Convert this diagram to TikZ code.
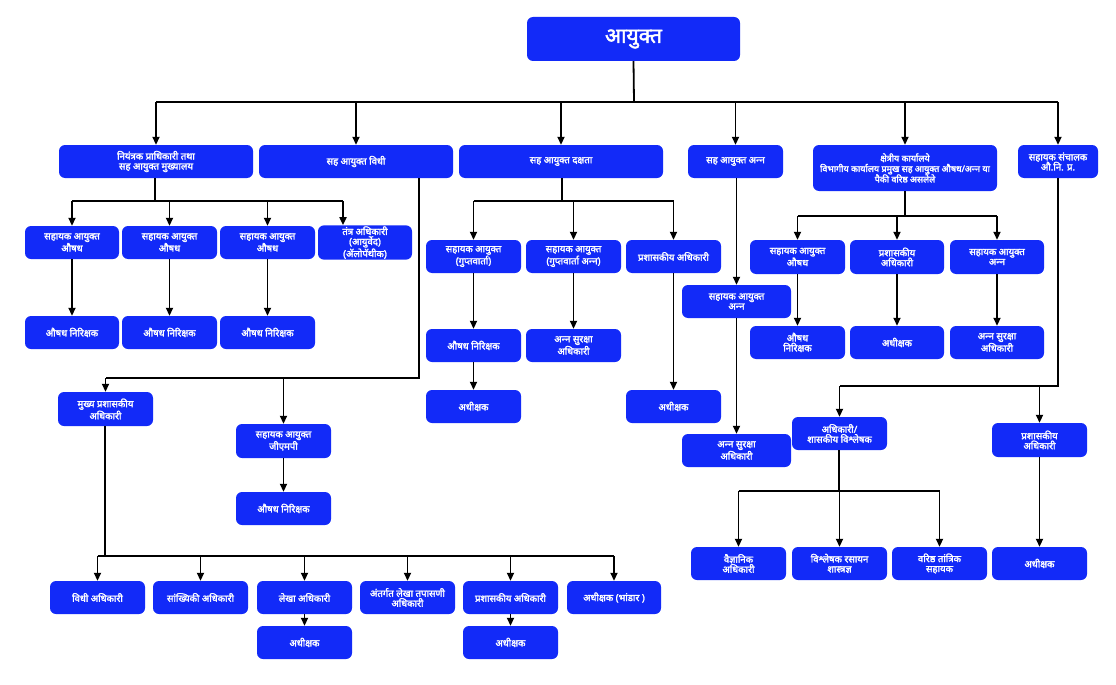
\documentclass[tikz,border=0pt]{standalone}
\usepackage{fontspec}
\newfontfamily\dev[Script=Devanagari, FakeBold=2.2]{Noto Sans}
\usetikzlibrary{arrows.meta}
\definecolor{boxblue}{RGB}{18,42,248}
\tikzset{
  box/.style={fill=boxblue, rounded corners=6pt, text=white, align=center, inner sep=1pt,
    font=\dev\fontsize{9.6}{10}\selectfont},
  conn/.style={draw=black, line width=1.8pt},
  arr/.style={conn, -{Triangle[length=8pt,width=7pt]}}
}
\newcommand\obox[6]{\node[box, minimum width={(#4-#2)*1pt}, minimum height={(#5-#3)*1pt}] (#1) at ({(#2+#4)/2},{(#3+#5)/2}) {#6};}
\newcommand\anna{अन्‍न}
\begin{document}
\begin{tikzpicture}[x=1pt,y=-1pt]
\useasboundingbox (0,0) rectangle (1116,685);
% top
\node[box, minimum width=213pt, minimum height=44pt, font=\dev\fontsize{21}{23}\selectfont] (top) at (633.5,39) {आयुक्त};
% row 1
\obox{a1}{59}{145}{253}{178}{नियंत्रक प्राधिकारी तथा\\सह आयुक्त मुख्यालय}
\obox{a2}{259}{145}{453}{178}{सह आयुक्त विधी}
\obox{a3}{459}{145}{663}{178}{सह आयुक्त दक्षता}
\obox{a4}{688}{145}{783}{178}{सह आयुक्त \anna}
\node[box, minimum width=184pt, minimum height=46pt, font=\dev\fontsize{9}{10.5}\selectfont] (a5) at (905,168) {क्षेत्रीय कार्यालये\\विभागीय कार्यालय प्रमुख सह आयुक्त औषध/\anna{} या\\पैकी वरिष्ठ असलेले};
\obox{a6}{1018}{145}{1098}{178}{सहायक संचालक\\औ.नि. प्र.}
% A1 children
\obox{b1}{25}{226}{119}{259}{सहायक आयुक्त\\औषध}
\obox{b2}{122}{226}{217}{259}{सहायक आयुक्त\\औषध}
\obox{b3}{220}{226}{315}{259}{सहायक आयुक्त\\औषध}
\obox{b4}{318}{226}{412}{259}{तंत्र अधिकारी\\(आयुर्वेद)\\(ॲलोपॅथीक)}
\obox{c1}{25}{316}{119}{349}{औषध निरिक्षक}
\obox{c2}{122}{316}{217}{349}{औषध निरिक्षक}
\obox{c3}{220}{316}{315}{349}{औषध निरिक्षक}
% A2 children
\obox{m1}{58}{392}{153}{426}{मुख्य प्रशासकीय\\अधिकारी}
\obox{gmp}{236}{424}{331}{458}{सहायक आयुक्त\\जीएमपी}
\obox{gmpc}{236}{492}{331}{525}{औषध निरिक्षक}
\obox{d1}{50}{581}{145}{614}{विधी अधिकारी}
\obox{d2}{153}{581}{248}{614}{सांख्यिकी अधिकारी}
\obox{d3}{257}{581}{352}{614}{लेखा अधिकारी}
\obox{d4}{360}{581}{455}{614}{अंतर्गत लेखा तपासणी\\अधिकारी}
\obox{d5}{463}{581}{558}{614}{प्रशासकीय अधिकारी}
\obox{d6}{567}{581}{661}{614}{अधीक्षक (भांडार )}
\obox{d3c}{257}{626}{352}{659}{अधीक्षक}
\obox{d5c}{463}{626}{558}{659}{अधीक्षक}
% A3 children
\obox{e1}{426}{240}{521}{273}{सहायक आयुक्त\\(गुप्तवार्ता)}
\obox{e2}{526}{240}{621}{273}{सहायक आयुक्त\\(गुप्तवार्ता \anna)}
\obox{e3}{626}{240}{721}{273}{प्रशासकीय अधिकारी}
\obox{e1c}{426}{329}{521}{362}{औषध निरिक्षक}
\obox{e1cc}{426}{390}{521}{423}{अधीक्षक}
\obox{e2c}{526}{329}{621}{362}{\anna{} सुरक्षा\\अधिकारी}
\obox{e3c}{626}{390}{721}{423}{अधीक्षक}
% A4 children
\obox{sa}{682}{285}{791}{318}{सहायक आयुक्त\\\anna}
\obox{sac}{682}{434}{791}{467}{\anna{} सुरक्षा\\अधिकारी}
% A5 children
\obox{f1}{750}{240}{845}{274}{सहायक आयुक्त\\औषध}
\obox{f2}{850}{240}{944}{274}{प्रशासकीय\\अधिकारी}
\obox{f3}{950}{240}{1044}{274}{सहायक आयुक्त\\\anna}
\obox{g1}{750}{326}{845}{359}{औषध\\निरिक्षक}
\obox{g2}{850}{326}{944}{359}{अधीक्षक}
\obox{g3}{950}{326}{1044}{359}{\anna{} सुरक्षा\\अधिकारी}
% A6 children
\obox{h1}{792}{417}{887}{450}{अधिकारी/\\शासकीय विश्लेषक}
\obox{h2}{992}{423}{1087}{457}{प्रशासकीय\\अधिकारी}
\obox{i1}{691}{547}{786}{580}{वैज्ञानिक\\अधिकारी}
\obox{i2}{792}{547}{887}{580}{विश्लेषक रसायन\\शास्त्रज्ञ}
\obox{i3}{892}{547}{987}{580}{वरिष्ठ तांत्रिक\\सहायक}
\obox{i4}{992}{547}{1087}{580}{अधीक्षक}

% ---- connectors ----
% top
\coordinate (j0) at (634,102);
\draw[conn] (top.south) -- (j0);
\draw[conn] (a1.north |- j0) -- (a6.north |- j0);
\foreach \n in {a1,a2,a3,a4,a5,a6} \draw[arr] (\n.north |- j0) -- (\n.north);
% A1
\coordinate (ja1) at (155,201);
\coordinate (jb4) at (343,201);
\draw[conn] (a1.south -| ja1) -- (ja1);
\draw[conn] (b1.north |- ja1) -- (jb4);
\foreach \n in {b1,b2,b3} \draw[arr] (\n.north |- ja1) -- (\n.north);
\draw[arr] (jb4) -- (jb4 |- b4.north);
\draw[arr] (b1) -- (c1);
\draw[arr] (b2) -- (c2);
\draw[arr] (b3) -- (c3);
% A2
\coordinate (ja2) at (419,378);
\draw[conn] (ja2 |- a2.south) -- (ja2) -- (m1.north |- ja2);
\draw[arr] (m1.north |- ja2) -- (m1.north);
\draw[arr] (gmp.north |- ja2) -- (gmp.north);
\draw[arr] (gmp) -- (gmpc);
\coordinate (jm) at (105,556);
\draw[conn] (m1.south -| jm) -- (jm);
\draw[conn] (d1.north |- jm) -- (d6.north |- jm);
\foreach \n in {d1,d2,d3,d4,d5,d6} \draw[arr] (\n.north |- jm) -- (\n.north);
\draw[arr] (d3) -- (d3c);
\draw[arr] (d5) -- (d5c);
% A3
\coordinate (ja3) at (562,201);
\draw[conn] (a3.south -| ja3) -- (ja3);
\draw[conn] (e1.north |- ja3) -- (e3.north |- ja3);
\foreach \n in {e1,e2,e3} \draw[arr] (\n.north |- ja3) -- (\n.north);
\draw[arr] (e1) -- (e1c);
\draw[arr] (e1c) -- (e1cc);
\draw[arr] (e2) -- (e2c);
\draw[arr] (e3) -- (e3c);
% A4
\draw[arr] (a4.south -| sa.north) -- (sa.north);
\draw[arr] (sa) -- (sac);
% A5
\coordinate (ja5) at (905,216);
\draw[conn] (a5.south -| ja5) -- (ja5);
\draw[conn] (f1.north |- ja5) -- (f3.north |- ja5);
\foreach \n in {f1,f2,f3} \draw[arr] (\n.north |- ja5) -- (\n.north);
\draw[arr] (f1) -- (g1);
\draw[arr] (f2) -- (g2);
\draw[arr] (f3) -- (g3);
% A6
\coordinate (ja6) at (1058,386);
\draw[conn] (a6.south) -- (ja6) -- (h1.north |- ja6);
\draw[arr] (h1.north |- ja6) -- (h1.north);
\draw[arr] (h2.north |- ja6) -- (h2.north);
\coordinate (jh) at (839,491);
\draw[conn] (h1.south -| jh) -- (jh);
\draw[conn] (i1.north |- jh) -- (i3.north |- jh);
\foreach \n in {i1,i2,i3} \draw[arr] (\n.north |- jh) -- (\n.north);
\draw[arr] (h2) -- (i4);
\end{tikzpicture}
\end{document}
